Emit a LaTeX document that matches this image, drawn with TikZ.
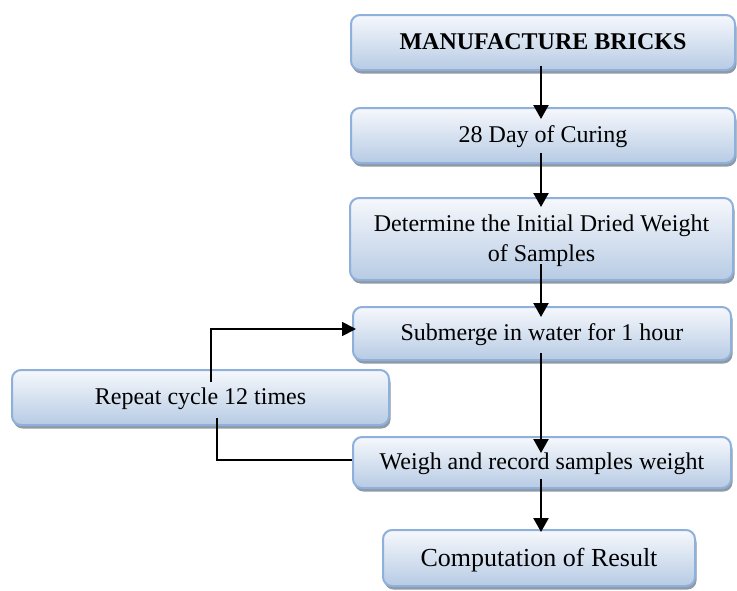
\documentclass[tikz,border=0pt]{standalone}
\usepackage{fontspec}
\setmainfont{Liberation Serif}
\usetikzlibrary{arrows.meta,shadows}
\definecolor{boxedge}{HTML}{8EB0DA}
\definecolor{boxtop}{HTML}{F6F8FC}
\definecolor{boxbot}{HTML}{B7CBE4}
\definecolor{shadowc}{HTML}{8F9AA6}
\tikzset{
  flowbox/.style={draw=boxedge, line width=2pt, rounded corners=9pt,
    top color=boxtop, bottom color=boxbot, inner sep=0pt,
    font=\fontsize{24}{30}\selectfont, align=center, text depth=2pt,
    drop shadow={shadow xshift=1.5pt, shadow yshift=-3.5pt, fill=shadowc, opacity=1}},
  mainarrow/.style={line width=2.3pt, -{Triangle[length=14pt,width=15pt]}},
  looparrow/.style={line width=1.8pt, -{Triangle[length=14pt,width=14pt]}},
  loopline/.style={line width=1.5pt}
}
\begin{document}
\begin{tikzpicture}[x=1pt,y=-1pt]
\useasboundingbox (0,0) rectangle (737,590);
\node[flowbox, minimum width=384pt, minimum height=55pt] (b1) at (543,42.5) {\textbf{MANUFACTURE BRICKS}};
\node[flowbox, minimum width=384pt, minimum height=55pt] (b2) at (543,135.5) {28 Day of Curing};
\node[flowbox, minimum width=383pt, minimum height=82pt] (b3) at (541.5,239) {Determine the Initial Dried Weight\\of Samples};
\node[flowbox, minimum width=378pt, minimum height=53pt] (b4) at (542,333.5) {Submerge in water for 1 hour};
\node[flowbox, minimum width=377pt, minimum height=55pt] (r) at (200.5,397.5) {Repeat cycle 12 times};
\node[flowbox, minimum width=378pt, minimum height=51pt] (b5) at (542,462.5) {Weigh and record samples weight};
\node[flowbox, minimum width=312pt, minimum height=56pt, font=\fontsize{26}{30}\selectfont] (b6) at (539,558) {Computation of Result};
\coordinate (ax) at (541,0);
\coordinate (lx1) at (211,0);
\coordinate (lx2) at (217,0);
\draw[mainarrow, shorten <=-5pt, shorten >=-12pt] (b1.south -| ax) -- (b2.north -| ax);
\draw[mainarrow, shorten <=-11pt, shorten >=-10pt] (b2.south -| ax) -- (b3.north -| ax);
\draw[mainarrow, shorten <=-17pt, shorten >=-11pt] (b3.south -| ax) -- (b4.north -| ax);
\draw[mainarrow, shorten <=-8pt, shorten >=-17pt] (b4.south -| ax) -- (b5.north -| ax);
\draw[mainarrow, shorten <=-10pt, shorten >=-3pt] (b5.south -| ax) -- (b6.north -| ax);
\draw[looparrow, shorten >=-4pt] ([yshift=-13pt]r.north -| lx1) |- ([yshift=4.5pt]b4.west);
\draw[loopline] ([yshift=8pt]r.south -| lx2) |- ([yshift=2.5pt]b5.west);
\end{tikzpicture}
\end{document}
